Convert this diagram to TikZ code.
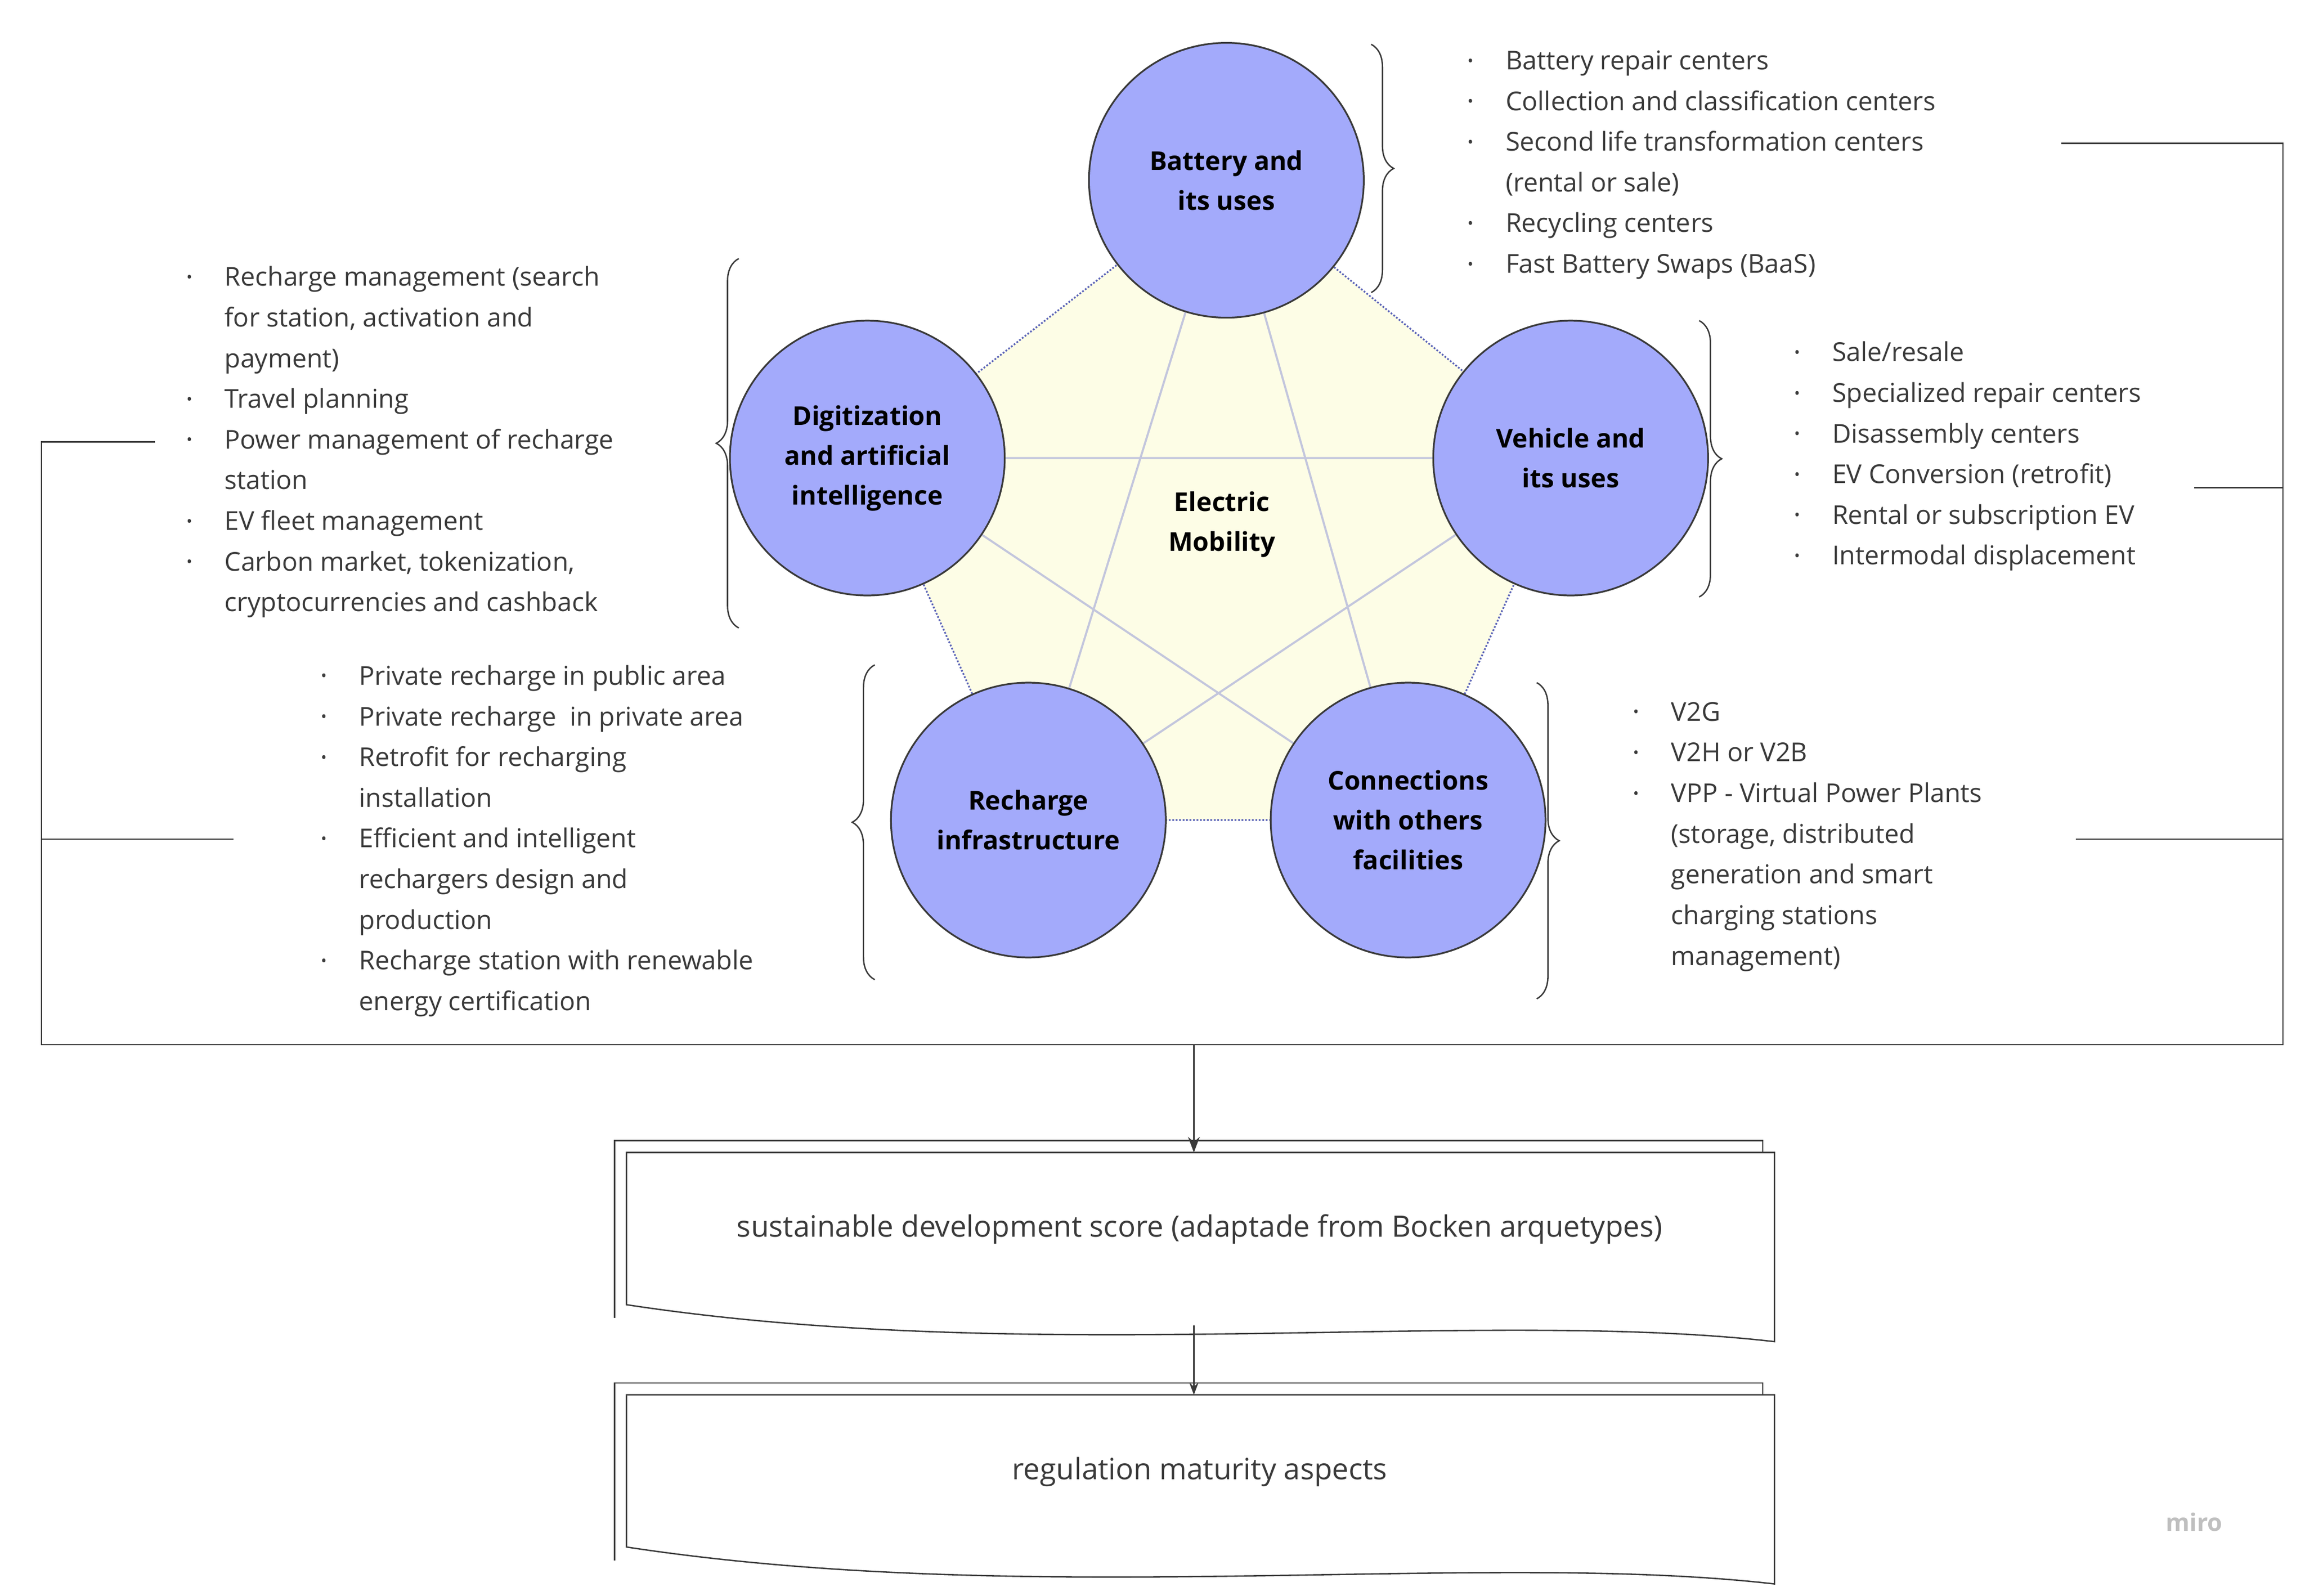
\documentclass[tikz,border=0pt]{standalone}
\usepackage{fontspec}
\setmainfont{Open Sans}
\usetikzlibrary{decorations.pathreplacing,arrows.meta}
\definecolor{circ}{HTML}{A3AAFB}
\definecolor{pent}{HTML}{FDFDE6}
\definecolor{dotb}{HTML}{5A63B8}
\definecolor{star}{HTML}{C3C6DD}
\definecolor{txt}{HTML}{3A3A3A}
\newcommand{\bl}{\makebox[22pt][l]{\raisebox{2pt}{\scalebox{0.6}{\textbullet}}}}
\newcommand{\ind}{\hspace*{22pt}}
\begin{document}
\begin{tikzpicture}[x=0.03cm,y=-0.03cm,
  ev/.style={circle,draw=txt,line width=1pt,fill=circ,minimum size=186*0.03cm,align=center,font=\fontsize{15}{23}\selectfont\bfseries,text=black},
  lst/.style={anchor=north west,align=left,font=\fontsize{15}{23.5}\selectfont,text=txt,inner sep=0},
  br/.style={decorate,decoration={brace,amplitude=13pt},draw=txt,line width=0.8pt},
  ln/.style={draw=txt,line width=0.8pt},
  doc/.style={draw=txt,line width=0.8pt,fill=white}]
\useasboundingbox[fill=white] (0,0) rectangle (1560,1080);
\coordinate (pB) at (830,122);
\coordinate (pD) at (587,310);
\coordinate (pV) at (1063,310);
\coordinate (pR) at (696,555);
\coordinate (pC) at (953,555);
\fill[pent] (pB)--(pV)--(pC)--(pR)--(pD)--cycle;
\draw[dotb,densely dotted,line width=1pt] (pB)--(pV)--(pC)--(pR)--(pD)--cycle;
\draw[star,line width=1.2pt] (pB)--(pR)--(pV)--(pD)--(pC)--cycle;
\node[ev] (B) at (pB) {Battery and\\its uses};
\node[ev] (D) at (pD) {Digitization\\and artificial\\intelligence};
\node[ev] (V) at (pV) {Vehicle and\\its uses};
\node[ev] (R) at (pR) {Recharge\\infrastructure};
\node[ev] (C) at (pC) {Connections\\with others\\facilities};
\node[font=\fontsize{15}{23}\selectfont\bfseries,align=center] (E) at (827,355) {Electric\\Mobility};
% braces
\draw[br] (928,30) -- (928,198);
\draw[br] (500,425) -- (500,175);
\draw[br] (1150,217) -- (1150,404);
\draw[br] (592,663) -- (592,450);
\draw[br] (1040,462) -- (1040,676);
% lists
\node[lst] (LB) at (993,34) {\bl Battery repair centers\\\bl Collection and classification centers\\\bl Second life transformation centers\\\ind (rental or sale)\\\bl Recycling centers\\\bl Fast Battery Swaps (BaaS)};
\node[lst] (LD) at (126,180) {\bl Recharge management (search\\\ind for station, activation and\\\ind payment)\\\bl Travel planning\\\bl Power management of recharge\\\ind station\\\bl EV fleet management\\\bl Carbon market, tokenization,\\\ind cryptocurrencies and cashback};
\node[lst] (LV) at (1214,231) {\bl Sale/resale\\\bl Specialized repair centers\\\bl Disassembly centers\\\bl EV Conversion (retrofit)\\\bl Rental or subscription EV\\\bl Intermodal displacement};
\node[lst] (LR) at (217,450) {\bl Private recharge in public area\\\bl Private recharge\ \ in private area\\\bl Retrofit for recharging\\\ind installation\\\bl Efficient and intelligent\\\ind rechargers design and\\\ind production\\\bl Recharge station with renewable\\\ind energy certification};
\node[lst] (LC) at (1105,475) {\bl V2G\\\bl V2H or V2B\\\bl VPP - Virtual Power Plants\\\ind (storage, distributed\\\ind generation and smart\\\ind charging stations\\\ind management)};
% collector lines
\draw[ln] (105,299) -- (28,299) -- (28,707) -- (1545,707) -- (1545,97) -- (1395,97);
\draw[ln] (28,568) -- (158,568);
\draw[ln] (1485,330) -- (1545,330);
\draw[ln] (1405,568) -- (1545,568);
\coordinate (j) at (808,707);
% documents
\draw[doc] (416,892) -- (416,772) -- (1193,772) -- (1193,900);
\draw[doc] (1201,908) .. controls (1000,885) and (700,925) .. (424,883) -- (424,780) -- (1201,780) -- cycle;
\node[font=\fontsize{17}{20}\selectfont,text=txt] (S) at (812,832) {sustainable development score (adaptade from Bocken arquetypes)};
\draw[doc] (416,1056) -- (416,936) -- (1193,936) -- (1193,1064);
\draw[doc] (1201,1072) .. controls (1000,1049) and (700,1089) .. (424,1047) -- (424,944) -- (1201,944) -- cycle;
\node[font=\fontsize{17}{20}\selectfont,text=txt] (G) at (812,996) {regulation maturity aspects};
\coordinate (s1) at (808,780);
\coordinate (s2) at (808,897);
\coordinate (s3) at (808,944);
\draw[ln,-{Stealth[length=9pt]}] (j) -- (s1);
\draw[ln,-{Stealth[length=7pt]}] (s2) -- (s3);
\node[font=\fontsize{14}{16}\selectfont\bfseries,text=black!25] (M) at (1485,1030) {miro};
\end{tikzpicture}
\end{document}
